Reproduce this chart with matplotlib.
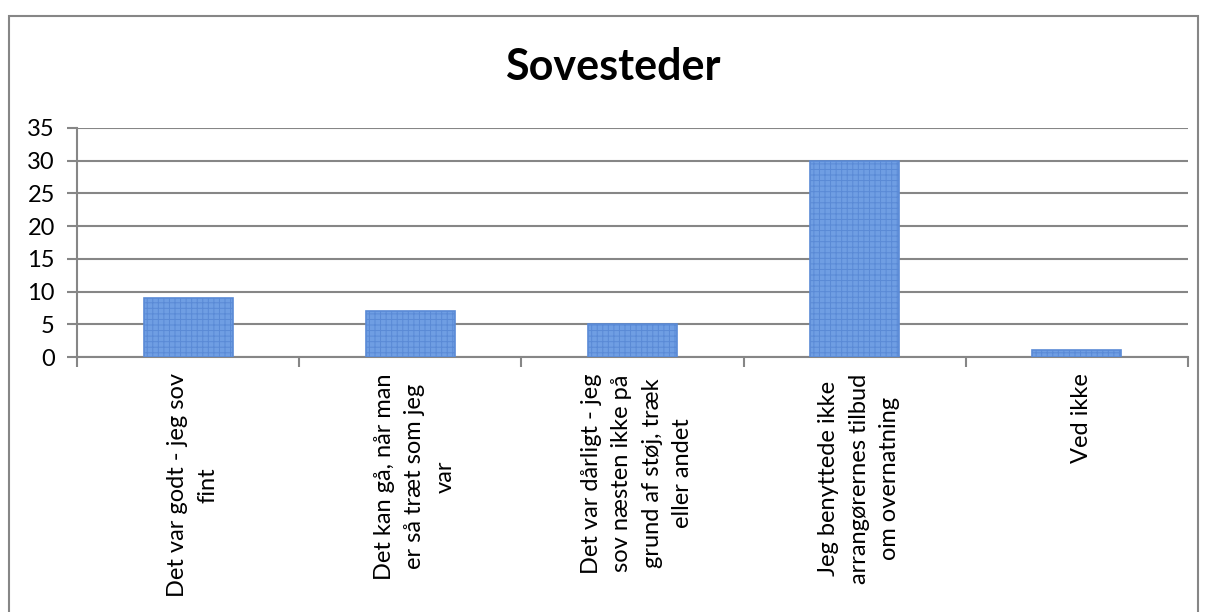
import matplotlib
matplotlib.use('Agg')
import matplotlib.pyplot as plt
from matplotlib.patches import Rectangle

plt.rcParams['font.family'] = ['Lato', 'DejaVu Sans']
plt.rcParams['hatch.color'] = '#b3cbf0'
plt.rcParams['hatch.linewidth'] = 0.7

categories = ['Det var godt - jeg sov\nfint',
              'Det kan gå, når man\ner så træt som jeg\nvar',
              'Det var dårligt - jeg\nsov næsten ikke på\ngrund af støj, træk\neller andet',
              'Jeg benyttede ikke\narrangørernes tilbud\nom overnatning',
              'Ved ikke']
values = [9, 7, 5, 30, 1]
yticks = [0, 5, 10, 15, 20, 25, 30, 35]

fig = plt.figure(figsize=(12.07, 6.12), dpi=100)
# outer chart border
fig.patches.append(Rectangle((9/1207, -0.05), 1189/1207, 1 - 16/612 + 0.05,
                             transform=fig.transFigure, fill=False,
                             edgecolor='#868686', linewidth=1.5))

ax = fig.add_axes([77/1207, 1 - 357/612, 1111/1207, 229/612])
x = range(len(values))
ax.bar(x, values, width=0.4, color='#6f9ee3', edgecolor='#5a8ad6',
       hatch='+++', linewidth=1.2, zorder=3)

ax.set_xlim(-0.5, len(values) - 0.5)
ax.set_ylim(0, 35)
ax.set_yticks(yticks)
ax.set_yticklabels([str(t) for t in yticks], fontsize=17)
ax.yaxis.grid(True, color='#868686', linewidth=1.5, zorder=0)
ax.tick_params(axis='y', length=7, width=1.5, color='#868686', pad=9)

# tick marks between categories
ax.set_xticks([i - 0.5 for i in range(len(values) + 1)])
ax.set_xticklabels([])
ax.tick_params(axis='x', length=7, width=1.5, color='#868686')
for i, lab in enumerate(categories):
    ax.text(i + 0.02, -2.5, lab, rotation=90, ha='center', va='top',
            multialignment='center', fontsize=17, linespacing=1.55)

for s in ['top', 'right']:
    ax.spines[s].set_visible(False)
ax.spines['left'].set_color('#868686')
ax.spines['left'].set_linewidth(1.5)
ax.spines['bottom'].set_color('#868686')
ax.spines['bottom'].set_linewidth(1.5)

fig.text(613/1207, 1 - 67/612, 'Sovesteder', ha='center', va='center',
         fontsize=31, fontweight='bold')

fig.savefig('out.png', dpi=100)
